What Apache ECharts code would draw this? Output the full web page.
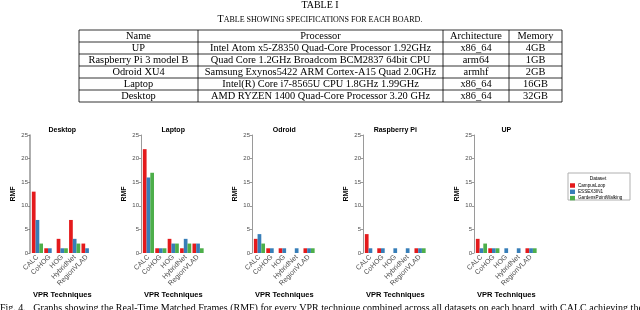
<!DOCTYPE html>
<html>
<head>
<meta charset="utf-8">
<script src="https://cdn.jsdelivr.net/npm/echarts@6/dist/echarts.min.js"></script>
<style>
html,body{margin:0;padding:0;background:#fff;}
#chart{width:640px;height:310px;}
</style>
</head>
<body>
<div id="chart"></div>
<script>
// ---- data ----
const techniques = ['CALC', 'CoHOG', 'HOG', 'HybridNet', 'RegionVLAD'];
const boards = ['Desktop', 'Laptop', 'Odroid', 'Raspberry Pi', 'UP'];
const datasets = ['CampusLoop', 'ESSEX3IN1', 'GardensPointWalking'];
const datasetColors = ['#E41A1C', '#377EB8', '#4DAF4A'];
const yTicks = [0, 5, 10, 15, 20, 25];

// RMF per technique, one array per board and dataset
const desktopCampusLoop = [13, 1, 3, 7, 2];
const desktopEssex = [7, 1, 1, 3, 1];
const desktopGardens = [2, 0, 1, 2, 0];
const laptopCampusLoop = [22, 1, 3, 1, 2];
const laptopEssex = [16, 1, 2, 3, 2];
const laptopGardens = [17, 1, 2, 2, 1];
const odroidCampusLoop = [3, 1, 1, 0, 1];
const odroidEssex = [4, 1, 1, 1, 1];
const odroidGardens = [2, 0, 0, 0, 1];
const rpiCampusLoop = [4, 1, 0, 0, 1];
const rpiEssex = [1, 1, 1, 1, 1];
const rpiGardens = [0, 0, 0, 0, 1];
const upCampusLoop = [3, 1, 0, 0, 1];
const upEssex = [1, 1, 1, 1, 1];
const upGardens = [2, 1, 0, 0, 1];

const boardData = [
  [desktopCampusLoop, desktopEssex, desktopGardens],
  [laptopCampusLoop, laptopEssex, laptopGardens],
  [odroidCampusLoop, odroidEssex, odroidGardens],
  [rpiCampusLoop, rpiEssex, rpiGardens],
  [upCampusLoop, upEssex, upGardens]
];

// table
const tableTitle = 'TABLE I';
const tableCaption = 'TABLE SHOWING SPECIFICATIONS FOR EACH BOARD.';
const tableHeader = ['Name', 'Processor', 'Architecture', 'Memory'];
const tableNames = ['UP', 'Raspberry Pi 3 model B', 'Odroid XU4', 'Laptop', 'Desktop'];
const tableProcessors = [
  'Intel Atom x5-Z8350 Quad-Core Processor 1.92GHz',
  'Quad Core 1.2GHz Broadcom BCM2837 64bit CPU',
  'Samsung Exynos5422 ARM Cortex-A15 Quad 2.0GHz',
  'Intel(R) Core i7-8565U CPU 1.8GHz 1.99GHz',
  'AMD RYZEN 1400 Quad-Core Processor 3.20 GHz'
];
const tableArch = ['x86_64', 'arm64', 'armhf', 'x86_64', 'x86_64'];
const tableMemory = ['4GB', '1GB', '2GB', '16GB', '32GB'];
const figCaption = 'Fig. 4.   Graphs showing the Real-Time Matched Frames (RMF) for every VPR technique combined across all datasets on each board, with CALC achieving the highest';

// ---- layout ----
const panelLeft = [30, 141, 252, 363, 474];
const plotW = 64.5;
const band = plotW / 5.2;
const gridTop = 135, gridBottomY = 253;
const colX = [79, 198, 443, 509, 562];
const rowTop = 30, rowH = 12;

const sansFont = 'Liberation Sans, Arial, sans-serif';
const serifFont = 'Liberation Serif, Times New Roman, serif';

const grids = [], xAxes = [], yAxes = [], series = [], graphics = [];

boards.forEach((b, i) => {
  const L = panelLeft[i];
  grids.push({left: L + 0.1 * band, width: 5 * band, top: gridTop, bottom: 310 - gridBottomY});
  xAxes.push({
    type: 'category', gridIndex: i, data: techniques,
    axisLine: {show: false}, axisTick: {show: false},
    axisLabel: {rotate: 45, interval: 0, fontSize: 7, color: '#4d4d4d', margin: 3, fontFamily: sansFont},
    name: 'VPR Techniques', nameLocation: 'middle', nameGap: 38,
    nameTextStyle: {fontSize: 7.5, fontWeight: 'bold', color: '#000', fontFamily: sansFont}
  });
  yAxes.push({
    type: 'value', gridIndex: i, min: yTicks[0], max: yTicks[yTicks.length - 1], interval: 5,
    offset: 0.1 * band,
    axisLine: {show: true, lineStyle: {color: '#9a9a9a', width: i === 0 ? 1.6 : 1}},
    axisTick: {show: true, length: 2, lineStyle: {color: '#555', width: 0.6}},
    axisLabel: {fontSize: 6, color: '#4d4d4d', margin: 2, fontFamily: sansFont},
    splitLine: {show: false},
    name: 'RMF', nameLocation: 'middle', nameGap: 13, nameRotate: 90,
    nameTextStyle: {fontSize: 7, fontWeight: 'bold', color: '#000', fontFamily: sansFont}
  });
  datasets.forEach((d, k) => {
    series.push({
      type: 'bar', name: d, xAxisIndex: i, yAxisIndex: i,
      data: boardData[i][k], barGap: '0%', barCategoryGap: '10%',
      itemStyle: {color: datasetColors[k]}, silent: true, animation: false
    });
  });
  graphics.push({
    type: 'text', x: L + plotW / 2, y: 130,
    style: {text: b, textAlign: 'center', textVerticalAlign: 'middle',
      font: 'bold 7px ' + sansFont, fill: '#000'}
  });
});

// table graphics
graphics.push({type: 'text', x: 320, y: 5.5, style: {text: tableTitle, textAlign: 'center', textVerticalAlign: 'middle', font: '10px ' + serifFont, fill: '#000'}});
graphics.push({type: 'text', x: 320, y: 19.5, style: {
  text: '{b|T}{s|' + tableCaption.slice(1) + '}', textAlign: 'center', textVerticalAlign: 'middle',
  rich: {b: {fontSize: 10, fontFamily: serifFont, fill: '#000'}, s: {fontSize: 8, fontFamily: serifFont, fill: '#000'}}
}});
const nRows = tableNames.length + 1;
for (let r = 0; r <= nRows; r++) {
  graphics.push({type: 'line', shape: {x1: colX[0], y1: rowTop + r * rowH, x2: colX[4], y2: rowTop + r * rowH},
    style: {stroke: '#000', lineWidth: 0.8}});
}
colX.forEach(x => {
  graphics.push({type: 'line', shape: {x1: x, y1: rowTop, x2: x, y2: rowTop + nRows * rowH},
    style: {stroke: '#000', lineWidth: 0.8}});
});
const tableCols = [tableNames, tableProcessors, tableArch, tableMemory];
for (let r = 0; r < nRows; r++) {
  for (let c = 0; c < 4; c++) {
    const txt = r === 0 ? tableHeader[c] : tableCols[c][r - 1];
    graphics.push({type: 'text', x: (colX[c] + colX[c + 1]) / 2, y: rowTop + r * rowH + rowH / 2 + 0.5,
      style: {text: txt, textAlign: 'center', textVerticalAlign: 'middle', font: '10.4px ' + serifFont, fill: '#000'}});
  }
}
// legend box
graphics.push({type: 'rect', shape: {x: 568, y: 173, width: 62, height: 27},
  style: {fill: '#fff', stroke: '#b0b0b0', lineWidth: 1}, z: 0});
graphics.push({type: 'text', x: 598, y: 178.5, style: {text: 'Dataset', textAlign: 'center', textVerticalAlign: 'middle', font: '4.8px ' + sansFont, fill: '#000'}, z: 5});
// figure caption (cut off at the bottom)
graphics.push({type: 'text', x: 0, y: 308, style: {text: figCaption, textAlign: 'left', textVerticalAlign: 'middle', font: '10px ' + serifFont, fill: '#000'}});

const chart = echarts.init(document.getElementById('chart'), null, {renderer: 'canvas'});
chart.setOption({
  animation: false,
  grid: grids, xAxis: xAxes, yAxis: yAxes, series: series,
  legend: {
    data: datasets, orient: 'vertical', left: 570, top: 183,
    itemWidth: 5, itemHeight: 4.5, itemGap: 1.3, padding: 0,
    icon: 'rect', selectedMode: false, z: 10,
    textStyle: {fontSize: 4.6, color: '#000', fontFamily: sansFont, padding: [0, 0, 0, -2]}
  },
  graphic: graphics
});
</script>
</body>
</html>
